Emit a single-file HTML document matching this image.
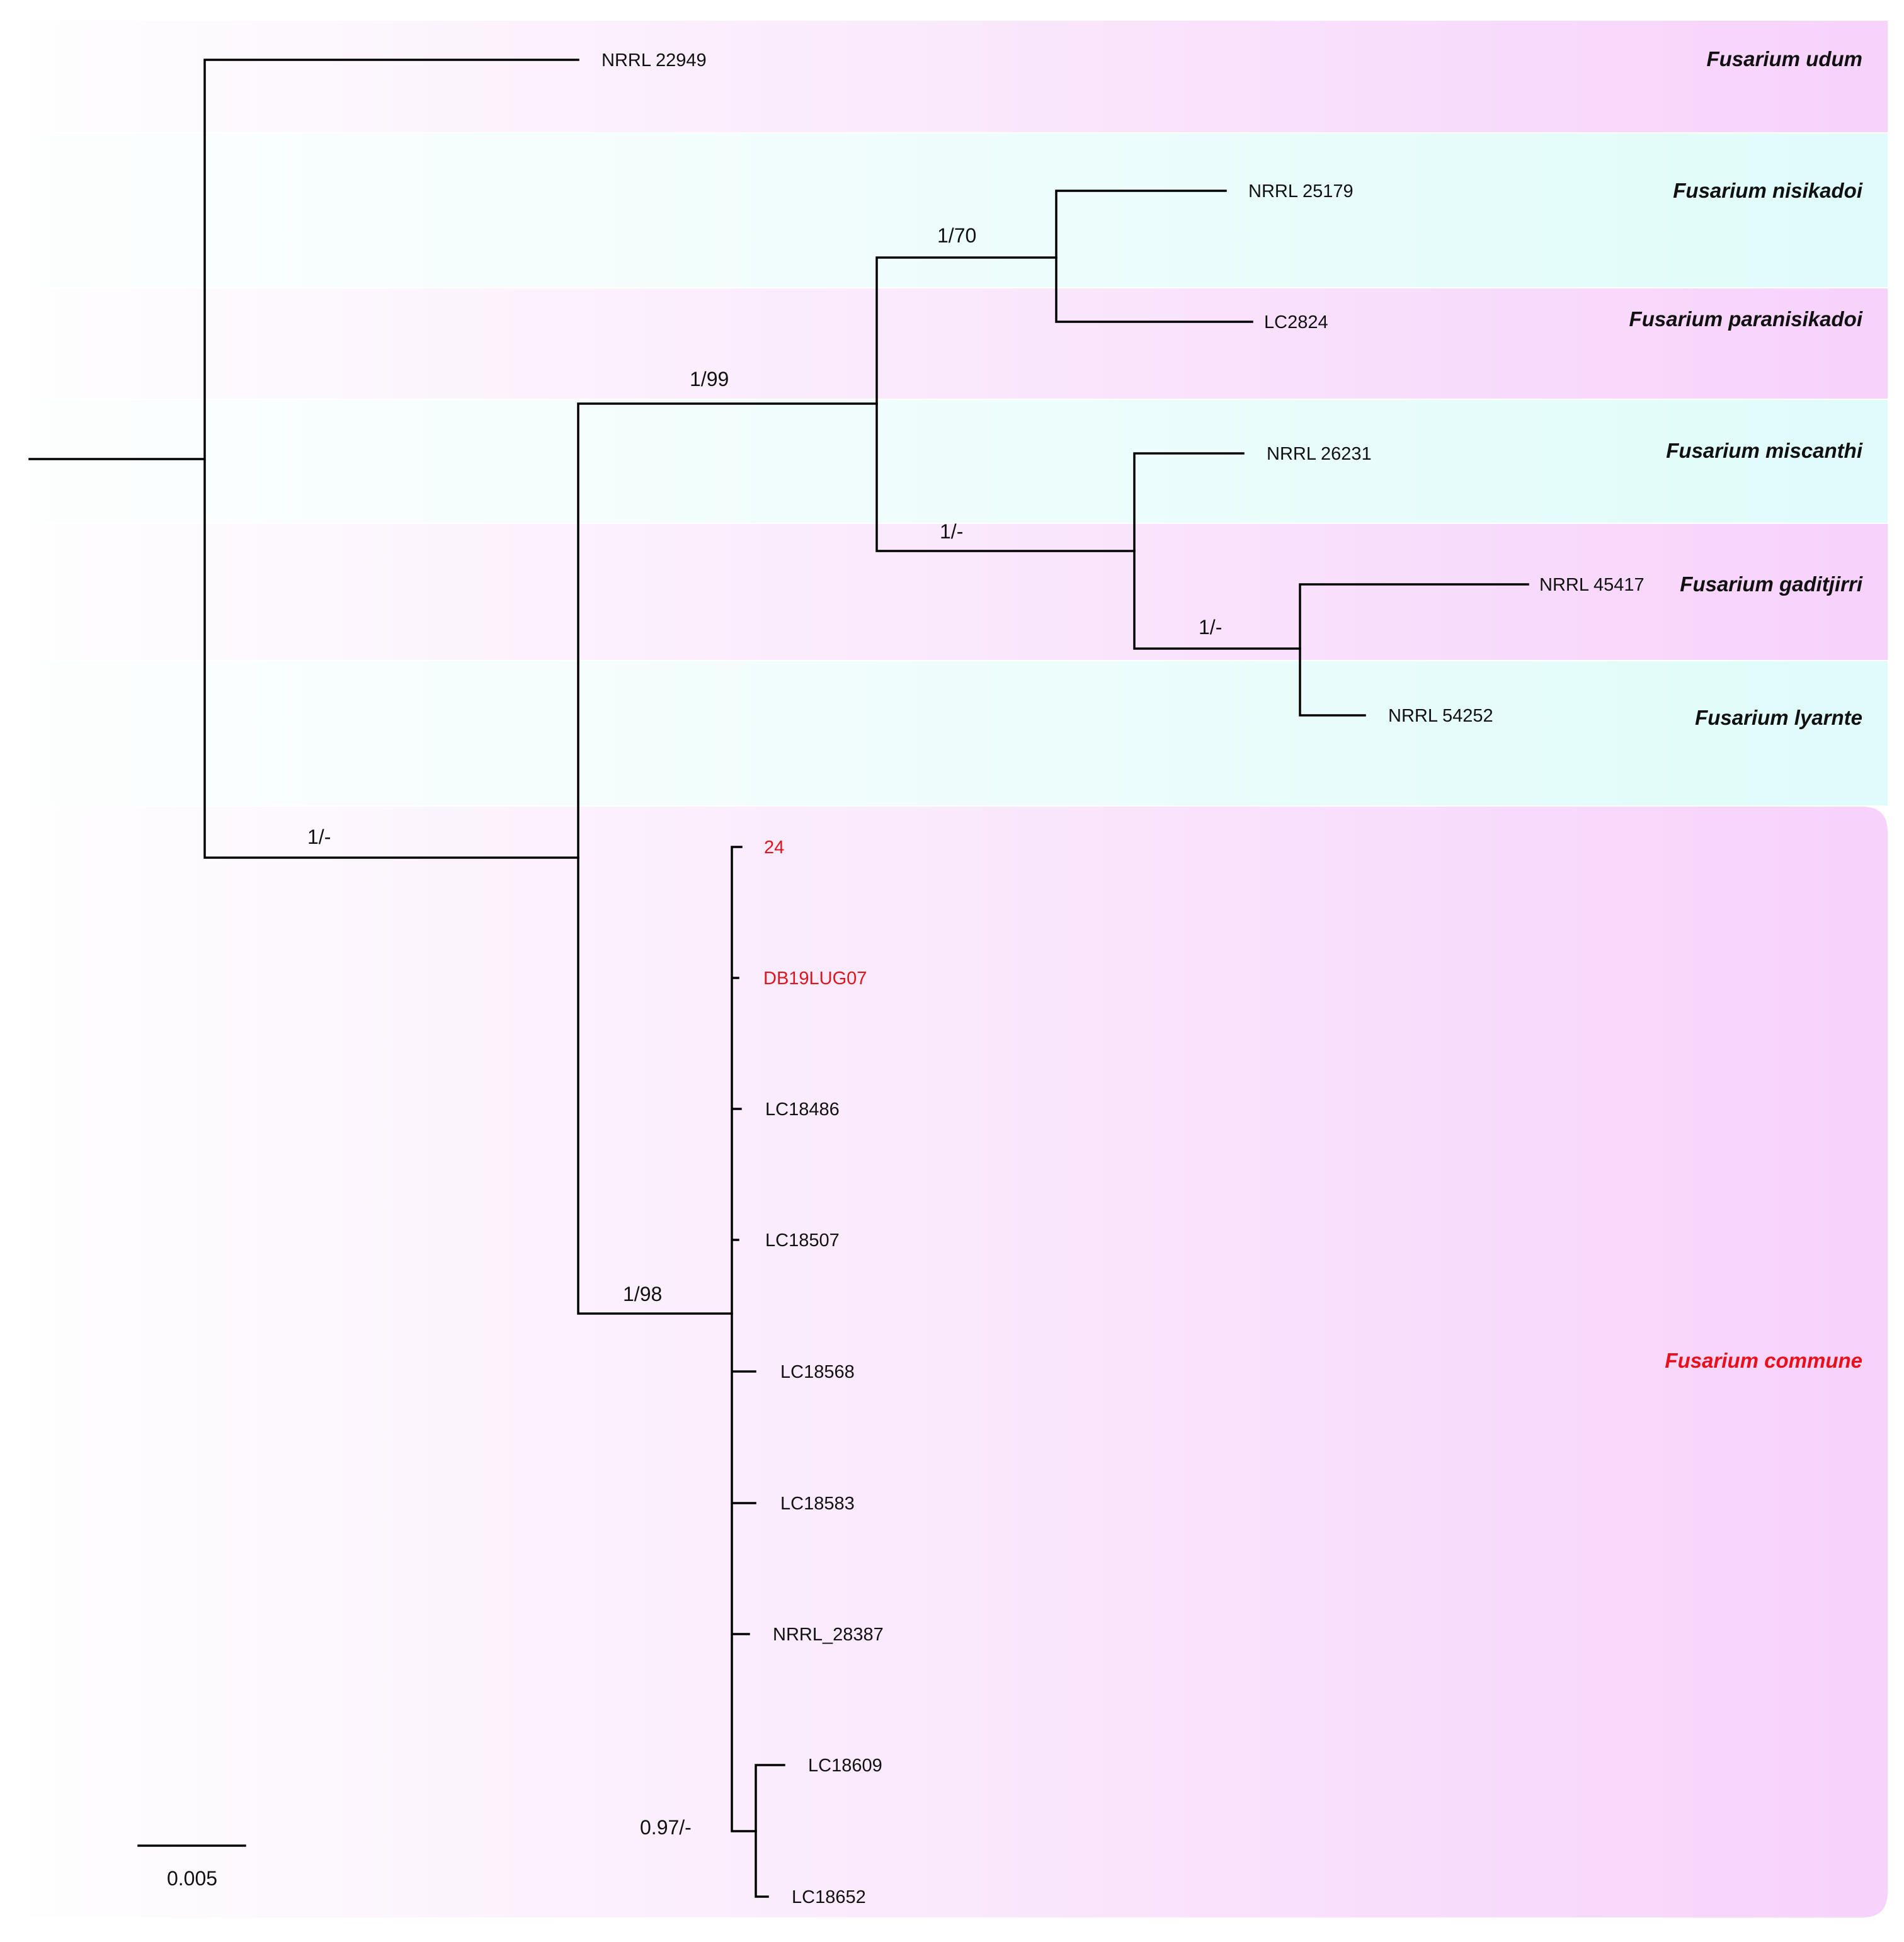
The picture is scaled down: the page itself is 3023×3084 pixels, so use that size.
<!DOCTYPE html>
<html><head><meta charset="utf-8"><style>
html,body{margin:0;padding:0;background:#fff}
svg{display:block}
text{font-family:"Liberation Sans",Arial,sans-serif}
.l{font-size:29px;fill:#111}
.s{font-size:32px;fill:#111}
.sp{font-size:33px;font-weight:bold;font-style:italic;fill:#111;text-anchor:end}
</style></head><body>
<svg width="3023" height="3084" viewBox="0 0 3023 3084" xmlns="http://www.w3.org/2000/svg">
<defs>
<linearGradient id="gp" x1="0" x2="1" y1="0" y2="0">
<stop offset="0" stop-color="#fefefe"/><stop offset="1" stop-color="#f7d2fb"/></linearGradient>
<linearGradient id="gc" x1="0" x2="1" y1="0" y2="0">
<stop offset="0" stop-color="#fdfefe"/><stop offset="1" stop-color="#dffcfa"/></linearGradient>
</defs>
<rect x="47" y="33" width="2950" height="177" fill="url(#gp)"/>
<rect x="47" y="212" width="2950" height="244" fill="url(#gc)"/>
<rect x="47" y="458" width="2950" height="175" fill="url(#gp)"/>
<rect x="47" y="635" width="2950" height="195" fill="url(#gc)"/>
<rect x="47" y="832" width="2950" height="216" fill="url(#gp)"/>
<rect x="47" y="1050" width="2950" height="229" fill="url(#gc)"/>
<path d="M47 1281 H2957 Q2997 1281 2997 1321 V3005 Q2997 3045 2957 3045 H47 Z" fill="url(#gp)"/>
<g stroke="#000" stroke-width="3.5" fill="none" stroke-linecap="square">
<path d="M47 729 H325 M325 95 V1362 M325 95 H918 M325 1362 H918"/>
<path d="M918 641 V2086 M918 641 H1392 M918 2086 H1162"/>
<path d="M1392 409 V875 M1392 409 H1677 M1392 875 H1801"/>
<path d="M1677 303 V511 M1677 303 H1946 M1677 511 H1988"/>
<path d="M1801 720 V1030 M1801 720 H1974 M1801 1030 H2064"/>
<path d="M2064 928 V1136 M2064 928 H2426 M2064 1136 H2167"/>
<path d="M1162 1345 V2908 M1162 1345 H1177 M1162 1553 H1172 M1162 1761 H1176 M1162 1969 H1172 M1162 2178 H1199 M1162 2387 H1199 M1162 2595 H1189 M1162 2908 H1200"/>
<path d="M1200 2803 V3012 M1200 2803 H1245 M1200 3012 H1219"/>
<path d="M220 2931 H389"/>
</g>
<text class="l" x="955" y="105">NRRL 22949</text>
<text class="l" x="1982" y="313">NRRL 25179</text>
<text class="l" x="2007" y="521">LC2824</text>
<text class="l" x="2011" y="730">NRRL 26231</text>
<text class="l" x="2444" y="938">NRRL 45417</text>
<text class="l" x="2204" y="1146">NRRL 54252</text>
<text class="l" x="1213" y="1355" fill="#e0141c" style="fill:#e0141c">24</text>
<text class="l" x="1212" y="1563" style="fill:#e0141c">DB19LUG07</text>
<text class="l" x="1215" y="1771">LC18486</text>
<text class="l" x="1215" y="1979">LC18507</text>
<text class="l" x="1239" y="2188">LC18568</text>
<text class="l" x="1239" y="2397">LC18583</text>
<text class="l" x="1227" y="2605">NRRL_28387</text>
<text class="l" x="1283" y="2813">LC18609</text>
<text class="l" x="1257" y="3022">LC18652</text>
<text class="s" x="488" y="1340">1/-</text>
<text class="s" x="1095" y="613">1/99</text>
<text class="s" x="1488" y="385">1/70</text>
<text class="s" x="1492" y="855">1/-</text>
<text class="s" x="1903" y="1007">1/-</text>
<text class="s" x="989" y="2066">1/98</text>
<text class="s" x="1016" y="2913">0.97/-</text>
<text class="s" x="305" y="2994" text-anchor="middle">0.005</text>
<text class="sp" x="2957" y="105">Fusarium udum</text>
<text class="sp" x="2957" y="314">Fusarium nisikadoi</text>
<text class="sp" x="2957" y="518">Fusarium paranisikadoi</text>
<text class="sp" x="2957" y="727">Fusarium miscanthi</text>
<text class="sp" x="2957" y="939">Fusarium gaditjirri</text>
<text class="sp" x="2957" y="1151">Fusarium lyarnte</text>
<text class="sp" x="2957" y="2172" style="fill:#e8101a">Fusarium commune</text>
</svg>
</body></html>
